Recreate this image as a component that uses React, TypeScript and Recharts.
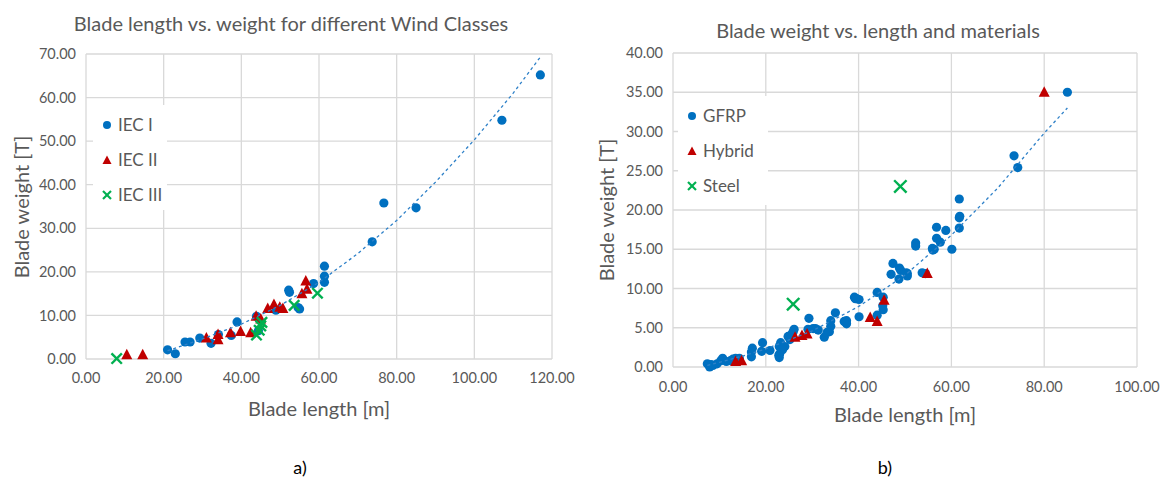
import React from "react"
import { CartesianGrid, Scatter, ScatterChart, XAxis, YAxis } from "recharts"

// a) wind classes
const iec1Length = [21.0, 23.0, 25.5, 26.8, 29.3, 32.2, 34.1, 37.4, 38.9, 43.9, 44.4, 48.9, 52.2, 52.4, 54.6, 55.0, 58.6, 61.4, 61.4, 61.4, 73.7, 76.7, 85.0, 107.1, 117.0]
const iec1Weight = [2.1, 1.2, 3.9, 3.9, 4.8, 3.6, 5.6, 5.4, 8.5, 9.8, 6.5, 11.2, 15.8, 15.3, 11.8, 11.5, 17.3, 21.3, 19.0, 17.6, 26.9, 35.8, 34.7, 54.8, 65.2]
const iec2Length = [10.5, 14.6, 31.0, 34.0, 34.0, 37.2, 39.8, 42.4, 43.8, 45.0, 46.8, 48.4, 49.9, 50.7, 55.6, 56.9, 56.6]
const iec2Weight = [1.0, 1.0, 4.8, 5.6, 4.4, 6.0, 6.3, 6.0, 9.8, 9.2, 11.6, 12.5, 11.9, 11.6, 15.0, 16.0, 17.9]
const iec3Length = [7.9, 43.9, 44.6, 45.0, 45.3, 53.6, 59.6]
const iec3Weight = [0.1, 5.5, 6.6, 7.6, 8.4, 12.3, 15.1]
const trendALength = [21, 30, 40, 50, 60, 70, 80, 90, 100, 110, 117]
const trendAWeight = [1.9, 4.6, 8.0, 12.3, 17.6, 24.2, 31.8, 40.6, 50.3, 61.0, 69.3]
const ticksA = [0, 20, 40, 60, 80, 100, 120]
const yTicksA = [0, 10, 20, 30, 40, 50, 60, 70]

// b) materials
const gfrpLength = [7.4, 7.9, 8.6, 9.5, 10.3, 10.7, 11.5, 12.4, 13.5, 14.3, 16.9, 16.9, 17.1, 19.1, 19.3, 20.9, 22.9, 23.0, 22.9, 23.2, 24.1, 23.6, 24.8, 25.2, 25.9, 25.6, 29.3, 29.1, 30.2, 31.3, 32.6, 33.7, 34.0, 34.0, 35.0, 37.4, 37.4, 39.1, 39.6, 40.1, 40.1, 44.0, 45.3, 45.3, 45.2, 44.0, 47.4, 48.8, 49.1, 47.0, 48.7, 50.5, 50.5, 52.3, 52.3, 53.7, 54.4, 56.3, 56.0, 56.8, 57.6, 56.8, 58.8, 60.1, 61.7, 61.7, 61.7, 73.5, 74.3, 85.0, 8.2, 12.9, 22.8, 26.1, 30.7, 33.2, 36.9, 39.3, 50.3, 55.9, 61.8]
const gfrpWeight = [0.4, 0.0, 0.2, 0.4, 0.8, 1.1, 0.7, 0.8, 1.1, 1.1, 1.3, 1.9, 2.4, 2.0, 3.1, 2.1, 1.2, 1.7, 2.6, 3.1, 2.6, 2.2, 3.9, 3.5, 4.5, 4.2, 6.2, 4.8, 4.9, 4.7, 3.8, 4.5, 5.2, 5.9, 6.9, 5.9, 5.5, 8.9, 8.7, 8.6, 6.4, 9.5, 8.9, 7.3, 7.8, 6.6, 13.2, 12.6, 12.3, 11.8, 11.2, 11.9, 11.6, 15.8, 15.4, 12.0, 11.9, 15.0, 14.9, 16.4, 15.9, 17.8, 17.4, 15.0, 21.4, 19.0, 17.7, 26.9, 25.4, 35.0, 0.3, 1.0, 1.5, 4.8, 4.9, 4.4, 5.8, 8.7, 12.0, 15.1, 19.2]
const hybridLength = [13.5, 14.8, 26.3, 27.8, 28.9, 42.5, 44.0, 45.5, 54.8, 80.0]
const hybridWeight = [0.7, 0.8, 3.8, 4.0, 4.2, 6.3, 5.8, 8.5, 11.9, 35.0]
const steelLength = [25.9, 49.0]
const steelWeight = [8.0, 23.0]
const trendBLength = [7.4, 10, 15, 20, 30, 40, 50, 60, 70, 80, 85]
const trendBWeight = [0.2, 0.6, 1.4, 2.3, 4.6, 7.7, 11.7, 16.8, 22.8, 29.8, 33.0]
const ticksB = [0, 20, 40, 60, 80, 100]
const yTicksB = [0, 5, 10, 15, 20, 25, 30, 35, 40]

const BLUE = "#0070c0"
const RED = "#c00000"
const GREEN = "#00b050"
const GREY = "#595959"
const FONT = "Lato, 'Open Sans', sans-serif"

const pts = (xs: number[], ys: number[]) => xs.map((x, i) => ({ x, y: ys[i] }))

const dot = (p: any) => <circle cx={p.cx} cy={p.cy} r={4.6} fill={BLUE} />
const tri = (p: any) => (
  <polygon points={`${p.cx},${p.cy - 6} ${p.cx - 5.5},${p.cy + 4.5} ${p.cx + 5.5},${p.cy + 4.5}`} fill={RED} />
)
// steel markers are drawn a bit larger in panel b
const crossOf = (h: number) => (p: any) => (
  <g stroke={GREEN} strokeWidth={2.4}>
    <line x1={p.cx - h} y1={p.cy - h} x2={p.cx + h} y2={p.cy + h} />
    <line x1={p.cx - h} y1={p.cy + h} x2={p.cx + h} y2={p.cy - h} />
  </g>
)
const none = () => <g />

const tick = { fontFamily: FONT, fontSize: 14.5, fill: GREY }
const fmt = (v: number) => v.toFixed(2)
const trendLine = { stroke: "#2e80c8", strokeWidth: 1.3, strokeDasharray: "3 3" }

function Legend({ items, style }: { items: { label: string; mark: "dot" | "tri" | "cross" }[]; style: any }) {
  return (
    <div style={{ position: "absolute", background: "#fff", ...style }}>
      {items.map((it, i) => (
        <div key={it.label} style={{ position: "absolute", left: 8, top: 9 + i * 35, display: "flex", alignItems: "center", fontFamily: FONT, fontSize: 17, color: GREY, whiteSpace: "nowrap" }}>
          <svg width={12} height={12} style={{ marginRight: 5 }}>
            {it.mark === "dot" && <circle cx={6} cy={6} r={4} fill={BLUE} />}
            {it.mark === "tri" && <polygon points="6,1.5 1.5,10 10.5,10" fill={RED} />}
            {it.mark === "cross" && (
              <g stroke={GREEN} strokeWidth={2.2}>
                <line x1={2} y1={2} x2={10} y2={10} />
                <line x1={2} y1={10} x2={10} y2={2} />
              </g>
            )}
          </svg>
          {it.label}
        </div>
      ))}
    </div>
  )
}

const text = (s: any) => ({ position: "absolute" as const, fontFamily: FONT, color: GREY, whiteSpace: "nowrap" as const, ...s })

export default function App() {
  return (
    <div style={{ position: "absolute", left: 0, top: 0, width: 1166, height: 481, background: "#fff", overflow: "hidden" }}>
      <div style={{ position: "absolute", left: 0, top: 0 }}>
        <ScatterChart width={580} height={481} margin={{ top: 54, right: 28, bottom: 92, left: 26 }}>
          <CartesianGrid stroke="#d9d9d9" strokeWidth={1.3} />
          <XAxis type="number" dataKey="x" domain={[0, 120]} ticks={ticksA} tickFormatter={fmt} tick={tick} axisLine={false} tickLine={false} tickSize={0} tickMargin={14} height={30} />
          <YAxis type="number" dataKey="y" domain={[0, 70]} ticks={yTicksA} tickFormatter={fmt} tick={tick} axisLine={false} tickLine={false} tickSize={0} tickMargin={10} width={60} />
          <Scatter data={pts(iec1Length, iec1Weight)} shape={dot} isAnimationActive={false} />
          <Scatter data={pts(iec2Length, iec2Weight)} shape={tri} isAnimationActive={false} />
          <Scatter data={pts(iec3Length, iec3Weight)} shape={crossOf(5.2)} isAnimationActive={false} />
          <Scatter data={pts(trendALength, trendAWeight)} shape={none} line={trendLine} isAnimationActive={false} />
        </ScatterChart>
      </div>
      <div style={{ position: "absolute", left: 590, top: 0 }}>
        <ScatterChart width={576} height={481} margin={{ top: 53, right: 29, bottom: 84, left: 23 }}>
          <CartesianGrid stroke="#d9d9d9" strokeWidth={1.3} />
          <XAxis type="number" dataKey="x" domain={[0, 100]} ticks={ticksB} tickFormatter={fmt} tick={tick} axisLine={false} tickLine={false} tickSize={0} tickMargin={15} height={30} />
          <YAxis type="number" dataKey="y" domain={[0, 40]} ticks={yTicksB} tickFormatter={fmt} tick={tick} axisLine={false} tickLine={false} tickSize={0} tickMargin={10} width={60} />
          <Scatter data={pts(gfrpLength, gfrpWeight)} shape={dot} isAnimationActive={false} />
          <Scatter data={pts(hybridLength, hybridWeight)} shape={tri} isAnimationActive={false} />
          <Scatter data={pts(steelLength, steelWeight)} shape={crossOf(6.2)} isAnimationActive={false} />
          <Scatter data={pts(trendBLength, trendBWeight)} shape={none} line={trendLine} isAnimationActive={false} />
        </ScatterChart>
      </div>

      <Legend style={{ left: 93, top: 105, width: 74, height: 105 }} items={[{ label: "IEC I", mark: "dot" }, { label: "IEC II", mark: "tri" }, { label: "IEC III", mark: "cross" }]} />
      <Legend style={{ left: 678, top: 96, width: 90, height: 109 }} items={[{ label: "GFRP", mark: "dot" }, { label: "Hybrid", mark: "tri" }, { label: "Steel", mark: "cross" }]} />

      <div style={text({ left: 291, top: 23, fontSize: 20, transform: "translate(-50%, -50%)" })}>Blade length vs. weight for different Wind Classes</div>
      <div style={text({ left: 878, top: 30, fontSize: 20, transform: "translate(-50%, -50%)" })}>Blade weight vs. length and materials</div>

      <div style={text({ left: 319, top: 408, fontSize: 20, transform: "translate(-50%, -50%)" })}>Blade length [m]</div>
      <div style={text({ left: 905, top: 414, fontSize: 20, transform: "translate(-50%, -50%)" })}>Blade length [m]</div>
      <div style={text({ left: 21, top: 207, fontSize: 20, transform: "translate(-50%, -50%) rotate(-90deg)" })}>Blade weight [T]</div>
      <div style={text({ left: 606, top: 210, fontSize: 20, transform: "translate(-50%, -50%) rotate(-90deg)" })}>Blade weight [T]</div>

      <div style={text({ left: 300, top: 467, fontSize: 18, color: "#000", transform: "translate(-50%, -50%)" })}>a)</div>
      <div style={text({ left: 885, top: 467, fontSize: 18, color: "#000", transform: "translate(-50%, -50%)" })}>b)</div>
    </div>
  )
}
